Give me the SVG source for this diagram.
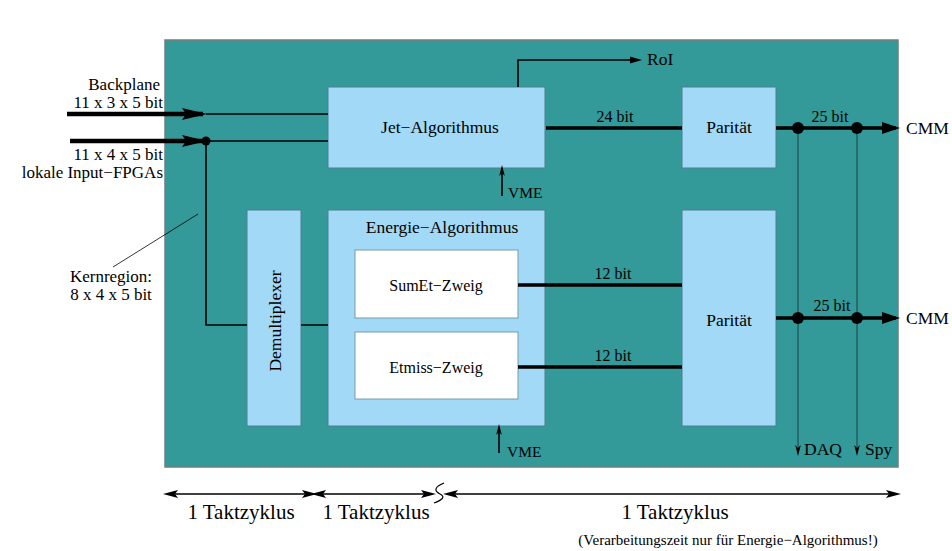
<svg xmlns="http://www.w3.org/2000/svg" width="952" height="551" viewBox="0 0 952 551">
<style>
text{font-family:"Liberation Serif","Times New Roman",serif;fill:#000}
.lbl{font-size:17.5px}
.side{font-size:17px}
.bit{font-size:16px}
.vme{font-size:15.5px}
.big{font-size:21px}
.note{font-size:15px}
.blk{fill:#a1d9f6;stroke:#4f7f8f;stroke-width:1}
.wht{fill:#ffffff;stroke:#7a9aa8;stroke-width:1}
.thin{fill:none;stroke:#000;stroke-width:1.6}
.thick{fill:none;stroke:#000;stroke-width:3.5}
.in{fill:none;stroke:#000;stroke-width:4.5}
.tap{fill:none;stroke:#1f3f44;stroke-width:1}
.dim{fill:none;stroke:#000;stroke-width:1.3}
.dot{fill:#000}
</style>
<defs>
<marker id="ahBig" markerUnits="userSpaceOnUse" markerWidth="28" markerHeight="14" refX="21" refY="7" orient="auto"><path d="M0,1 L25,7 L0,13 L4,7 Z" fill="#000"/></marker>
<marker id="ahMed" markerUnits="userSpaceOnUse" markerWidth="20" markerHeight="14" refX="14" refY="7" orient="auto"><path d="M0,1 L18,7 L0,13 Z" fill="#000"/></marker>
<marker id="ahDim" markerUnits="userSpaceOnUse" markerWidth="16" markerHeight="10" refX="11" refY="5" orient="auto-start-reverse"><path d="M0,1 L15,5 L0,9 L3,5 Z" fill="#000"/></marker>
<marker id="ahSm" markerUnits="userSpaceOnUse" markerWidth="14" markerHeight="10" refX="9" refY="5" orient="auto"><path d="M0,1.5 L12,5 L0,8.5 Z" fill="#000"/></marker>
<marker id="ahTip" markerUnits="userSpaceOnUse" markerWidth="12" markerHeight="8" refX="8" refY="4" orient="auto"><path d="M0,1.2 L3,4 L0,6.8 L11,4 Z" fill="#000"/></marker>
</defs>

<rect id="board" x="165" y="40" width="733" height="427" fill="#339999" stroke="#6f7f7f" stroke-width="1.5"/>

<g id="left-labels">
<text class="side" x="160" y="90" text-anchor="end">Backplane</text>
<text class="side" x="163" y="108" text-anchor="end">11 x 3 x 5 bit</text>
<text class="side" x="163" y="160" text-anchor="end">11 x 4 x 5 bit</text>
<text class="side" x="163" y="178" text-anchor="end">lokale Input−FPGAs</text>
<text class="side" x="111" y="282" text-anchor="middle">Kernregion:</text>
<text class="side" x="111" y="300" text-anchor="middle">8 x 4 x 5 bit</text>
</g>

<g id="jet">
<rect class="blk" x="328" y="87" width="217" height="81"/>
<text class="lbl" x="440" y="133" text-anchor="middle">Jet−Algorithmus</text>
</g>
<g id="paritaet1">
<rect class="blk" x="682" y="87" width="94" height="81"/>
<text class="lbl" x="729" y="133" text-anchor="middle">Parität</text>
</g>
<g id="demux">
<rect class="blk" x="247" y="210" width="54" height="216"/>
<text class="lbl" transform="translate(281,321) rotate(-90)" text-anchor="middle">Demultiplexer</text>
</g>
<g id="energie">
<rect class="blk" x="328" y="210" width="217" height="216"/>
<text class="lbl" x="442" y="233" text-anchor="middle">Energie−Algorithmus</text>
</g>
<g id="sumet">
<rect class="wht" x="355" y="250" width="163" height="68"/>
<text class="bit" x="436" y="291" text-anchor="middle">SumEt−Zweig</text>
</g>
<g id="etmiss">
<rect class="wht" x="355" y="332" width="163" height="67"/>
<text class="bit" x="436" y="373" text-anchor="middle">Etmiss−Zweig</text>
</g>
<g id="paritaet2">
<rect class="blk" x="682" y="210" width="94" height="216"/>
<text class="lbl" x="729" y="326" text-anchor="middle">Parität</text>
</g>

<g id="connectors">
<path class="in" d="M67,114 H203" marker-end="url(#ahBig)"/>
<path class="thin" d="M206,114 H328"/>
<path class="in" d="M70,141 H203" marker-end="url(#ahBig)"/>
<path class="thin" d="M206,141 H328 M206,141 V325 H247 M301,325 H328"/>
<circle class="dot" cx="206" cy="141" r="4.5"/>
<path fill="none" stroke="#000" stroke-width="0.8" d="M113,267 L198,214"/>

<path class="thick" d="M546,128 H682"/>
<text class="bit" x="615" y="122" text-anchor="middle">24 bit</text>
<path class="thin" d="M518,87 V60 H639" marker-end="url(#ahSm)"/>
<text class="lbl" x="647" y="65">RoI</text>

<path class="thin" d="M502,196 V168" marker-end="url(#ahTip)"/>
<text class="vme" x="508" y="198">VME</text>
<path class="thin" d="M499,453 V427" marker-end="url(#ahTip)"/>
<text class="vme" x="507" y="457">VME</text>

<path class="thick" d="M518,285 H682"/>
<text class="bit" x="613" y="279" text-anchor="middle">12 bit</text>
<path class="thick" d="M518,367 H682"/>
<text class="bit" x="613" y="361" text-anchor="middle">12 bit</text>

<path class="thick" d="M776,128 H896" marker-end="url(#ahMed)"/>
<path class="thick" d="M776,318 H896" marker-end="url(#ahMed)"/>
<path class="tap" d="M798,128 V453" marker-end="url(#ahTip)"/>
<path class="tap" d="M857,128 V453" marker-end="url(#ahTip)"/>
<circle class="dot" cx="798" cy="128" r="6"/>
<circle class="dot" cx="857" cy="128" r="6"/>
<circle class="dot" cx="798" cy="318" r="6"/>
<circle class="dot" cx="857" cy="318" r="6"/>
<text class="bit" x="830" y="122" text-anchor="middle">25 bit</text>
<text class="bit" x="832" y="311" text-anchor="middle">25 bit</text>
<text class="lbl" x="906" y="134">CMM</text>
<text class="lbl" x="906" y="324">CMM</text>
<text class="lbl" x="804" y="455">DAQ</text>
<text class="lbl" x="865" y="455">Spy</text>

<path class="dim" d="M167,494 H313" marker-start="url(#ahDim)" marker-end="url(#ahDim)"/>
<path class="dim" d="M315,494 H432" marker-start="url(#ahDim)" marker-end="url(#ahDim)"/>
<path class="dim" d="M447,494 H897" marker-start="url(#ahDim)" marker-end="url(#ahDim)"/>
<path fill="none" stroke="#000" stroke-width="1.2" d="M444,483 C434,487 434,491 440,494 C446,497 442,500 434,503"/>
</g>

<g id="bottom-labels">
<text class="big" x="241" y="519" text-anchor="middle">1 Taktzyklus</text>
<text class="big" x="376" y="519" text-anchor="middle">1 Taktzyklus</text>
<text class="big" x="675" y="519" text-anchor="middle">1 Taktzyklus</text>
<text class="note" x="728" y="545" text-anchor="middle">(Verarbeitungszeit nur für Energie−Algorithmus!)</text>
</g>
</svg>
